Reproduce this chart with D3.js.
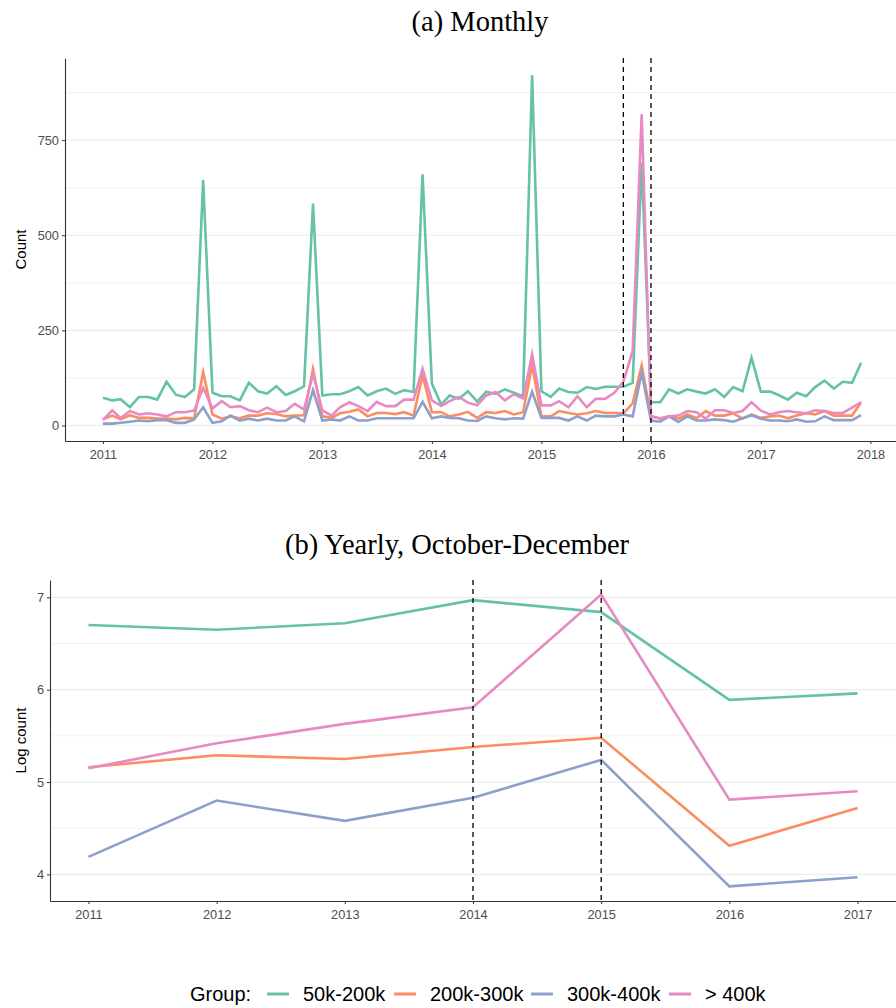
<!DOCTYPE html>
<html>
<head>
<meta charset="utf-8">
<script src="https://cdn.jsdelivr.net/npm/d3@7"></script>
<style>
  html, body { margin: 0; padding: 0; background: #fff; }
  svg { display: block; }
</style>
</head>
<body>
<svg id="chart" width="896" height="1008"></svg>
<script>
// ---------------- DATA ----------------
const groups = ["50k-200k", "200k-300k", "300k-400k", "> 400k"];
const groupColors = ["#66c2a5", "#fc8d62", "#8da0cb", "#e78ac3"];

// monthly counts Jan 2011 .. Dec 2017 (84 months)
const monthlyStart = [2011, 0];
const monthly50k200k = [
  73, 66, 69, 48, 75, 75, 68, 115, 81, 75, 95, 645,
  86, 77, 77, 66, 112, 90, 84, 103, 80, 90, 103, 583,
  79, 82, 82, 90, 101, 79, 90, 97, 83, 93, 88, 660,
  110, 55, 79, 70, 90, 63, 89, 83, 95, 86, 77, 920,
  90, 75, 97, 88, 86, 101, 96, 102, 102, 102, 112, 690,
  61, 61, 95, 84, 95, 89, 84, 95, 75, 101, 90, 178,
  89, 89, 80, 68, 86, 77, 101, 118, 97, 115, 112, 165
];
const monthly200k300k = [
  16, 26, 16, 27, 20, 20, 18, 18, 16, 20, 19, 140,
  29, 18, 24, 19, 26, 26, 32, 30, 24, 26, 27, 149,
  24, 20, 32, 36, 42, 24, 33, 33, 30, 35, 26, 132,
  35, 35, 24, 29, 36, 20, 35, 33, 38, 29, 35, 158,
  24, 24, 38, 33, 29, 32, 38, 33, 33, 32, 58, 158,
  24, 18, 24, 18, 29, 19, 38, 26, 26, 32, 18, 29,
  20, 24, 26, 19, 26, 32, 29, 38, 26, 26, 26, 61
];
const monthly300k400k = [
  5, 5, 7, 10, 13, 11, 14, 14, 7, 7, 16, 48,
  7, 11, 26, 13, 18, 13, 18, 13, 13, 24, 11, 93,
  13, 16, 13, 24, 13, 13, 19, 19, 19, 19, 19, 62,
  19, 24, 20, 19, 13, 12, 24, 19, 16, 19, 18, 89,
  20, 20, 20, 13, 24, 13, 26, 24, 24, 29, 24, 139,
  13, 10, 24, 9, 24, 13, 13, 16, 14, 10, 19, 27,
  18, 13, 13, 11, 16, 10, 11, 24, 14, 14, 14, 27
];
const monthlyOver400k = [
  14, 40, 19, 38, 29, 32, 29, 24, 35, 35, 39, 99,
  45, 64, 48, 51, 40, 35, 47, 35, 38, 57, 42, 136,
  40, 26, 48, 61, 51, 38, 62, 51, 51, 68, 68, 149,
  66, 51, 64, 75, 60, 53, 79, 88, 66, 82, 71, 187,
  53, 53, 64, 48, 77, 48, 70, 70, 86, 115, 196, 818,
  24, 19, 24, 26, 38, 35, 18, 40, 40, 33, 38, 61,
  39, 29, 35, 38, 35, 32, 40, 38, 33, 33, 47, 61
];

// yearly log counts, October-December
const years = [2011, 2012, 2013, 2014, 2015, 2016, 2017];
const yearly50k200k  = [6.70, 6.65, 6.72, 6.97, 6.84, 5.89, 5.96];
const yearly200k300k = [5.16, 5.29, 5.25, 5.38, 5.48, 4.31, 4.72];
const yearly300k400k = [4.19, 4.80, 4.58, 4.83, 5.24, 3.87, 3.97];
const yearlyOver400k = [5.15, 5.42, 5.63, 5.81, 7.03, 4.81, 4.90];

// tick labels / reference lines
const countTicks = [0, 250, 500, 750];
const countMinor = [125, 375, 625, 875];
const monthYearTicks = [2011, 2012, 2013, 2014, 2015, 2016, 2017, 2018];
const monthlyRefDates = [[2015, 9], [2016, 0]];
const logTicks = [4, 5, 6, 7];
const logMinor = [4.5, 5.5, 6.5];
const yearlyRefYears = [2014, 2015];

const titleA = "(a) Monthly";
const titleB = "(b) Yearly, October-December";
const legendTitle = "Group:";

// ---------------- DRAW ----------------
const svg = d3.select("#chart");
const SANS = "'Liberation Sans', Arial, Helvetica, sans-serif";
const SERIF = "'Liberation Serif', 'Times New Roman', serif";
const axisCol = "#333333";
const tickTextCol = "#4d4d4d";
const gridCol = "#ebebeb";

function expand(ext, f) { const s = ext[1] - ext[0]; return [ext[0] - s * f, ext[1] + s * f]; }

// ---- Panel A ----
const months = d3.range(monthly50k200k.length).map(i => new Date(monthlyStart[0], monthlyStart[1] + i, 1));
const monthlySeries = [monthly50k200k, monthly200k300k, monthly300k400k, monthlyOver400k];

const A = { left: 65, right: 899, top: 58, bottom: 441 };
const xDomA = expand([months[0].getTime(), months[months.length - 1].getTime()], 0.05);
const xA = d3.scaleTime().domain(xDomA.map(t => new Date(t))).range([A.left, A.right]);
const allMonthly = monthlySeries.flat();
const yA = d3.scaleLinear().domain(expand(d3.extent(allMonthly), 0.05)).range([A.bottom, A.top]);

const gA = svg.append("g");
gA.selectAll(".minor").data(countMinor).join("line")
  .attr("x1", A.left).attr("x2", A.right)
  .attr("y1", d => yA(d)).attr("y2", d => yA(d))
  .attr("stroke", gridCol).attr("stroke-width", 0.7);
gA.selectAll(".major").data(countTicks).join("line")
  .attr("x1", A.left).attr("x2", A.right)
  .attr("y1", d => yA(d)).attr("y2", d => yA(d))
  .attr("stroke", gridCol).attr("stroke-width", 1.2);

const lineA = d3.line().x((d, i) => xA(months[i])).y(d => yA(d));
gA.selectAll(".series").data(monthlySeries).join("path")
  .attr("d", d => lineA(d))
  .attr("fill", "none")
  .attr("stroke", (d, i) => groupColors[i])
  .attr("stroke-width", 2.6)
  .attr("stroke-linejoin", "miter")
  .attr("stroke-miterlimit", 20);

gA.selectAll(".ref").data(monthlyRefDates).join("line")
  .attr("x1", d => xA(new Date(d[0], d[1], 1))).attr("x2", d => xA(new Date(d[0], d[1], 1)))
  .attr("y1", A.top).attr("y2", A.bottom)
  .attr("stroke", "#000").attr("stroke-width", 1.3).attr("stroke-dasharray", "5,4");

const xAxisA = d3.axisBottom(xA).tickValues(monthYearTicks.map(y => new Date(y, 0, 1)))
  .tickFormat(d3.timeFormat("%Y")).tickSize(3).tickSizeOuter(0);
const gxA = gA.append("g").attr("transform", `translate(0,${A.bottom})`).call(xAxisA);
const yAxisA = d3.axisLeft(yA).tickValues(countTicks).tickSize(3).tickSizeOuter(0);
const gyA = gA.append("g").attr("transform", `translate(${A.left},0)`).call(yAxisA);

// ---- Panel B ----
const yearlySeries = [yearly50k200k, yearly200k300k, yearly300k400k, yearlyOver400k];
const B = { left: 50, right: 896, top: 580, bottom: 901 };
const xB = d3.scaleLinear().domain(expand(d3.extent(years), 0.05)).range([B.left, B.right]);
const yB = d3.scaleLinear().domain(expand(d3.extent(yearlySeries.flat()), 0.05)).range([B.bottom, B.top]);

const gB = svg.append("g");
gB.selectAll(".minor").data(logMinor).join("line")
  .attr("x1", B.left).attr("x2", B.right)
  .attr("y1", d => yB(d)).attr("y2", d => yB(d))
  .attr("stroke", gridCol).attr("stroke-width", 0.7);
gB.selectAll(".major").data(logTicks).join("line")
  .attr("x1", B.left).attr("x2", B.right)
  .attr("y1", d => yB(d)).attr("y2", d => yB(d))
  .attr("stroke", gridCol).attr("stroke-width", 1.2);

const lineB = d3.line().x((d, i) => xB(years[i])).y(d => yB(d));
gB.selectAll(".series").data(yearlySeries).join("path")
  .attr("d", d => lineB(d))
  .attr("fill", "none")
  .attr("stroke", (d, i) => groupColors[i])
  .attr("stroke-width", 2.6)
  .attr("stroke-linejoin", "miter")
  .attr("stroke-miterlimit", 20);

gB.selectAll(".ref").data(yearlyRefYears).join("line")
  .attr("x1", d => xB(d)).attr("x2", d => xB(d))
  .attr("y1", B.top).attr("y2", B.bottom)
  .attr("stroke", "#000").attr("stroke-width", 1.3).attr("stroke-dasharray", "5,4");

const xAxisB = d3.axisBottom(xB).tickValues(years).tickFormat(d3.format("d")).tickSize(3).tickSizeOuter(0);
const gxB = gB.append("g").attr("transform", `translate(0,${B.bottom})`).call(xAxisB);
const yAxisB = d3.axisLeft(yB).tickValues(logTicks).tickFormat(d3.format("d")).tickSize(3).tickSizeOuter(0);
const gyB = gB.append("g").attr("transform", `translate(${B.left},0)`).call(yAxisB);

[gxA, gyA, gxB, gyB].forEach(g => {
  g.select(".domain").attr("stroke", axisCol).attr("stroke-width", 1.1);
  g.selectAll(".tick line").attr("stroke", axisCol).attr("stroke-width", 1);
  g.selectAll(".tick text").attr("fill", tickTextCol).style("font-family", SANS).style("font-size", "12.8px");
});
[gxA, gxB].forEach(g => g.selectAll(".tick text").attr("dy", "0.9em"));
[gyA, gyB].forEach(g => g.selectAll(".tick text").attr("x", -6));

// titles
svg.append("text").attr("x", 480).attr("y", 31)
  .attr("text-anchor", "middle").style("font-family", SERIF).style("font-size", "28.5px")
  .attr("fill", "#000").text(titleA);
svg.append("text").attr("x", 457).attr("y", 554)
  .attr("text-anchor", "middle").style("font-family", SERIF).style("font-size", "28.5px")
  .attr("fill", "#000").text(titleB);

// y labels
svg.append("text").attr("transform", `translate(26,${(A.top + A.bottom) / 2}) rotate(-90)`)
  .attr("text-anchor", "middle").style("font-family", SANS).style("font-size", "15px")
  .attr("fill", "#000").text("Count");
svg.append("text").attr("transform", `translate(26,${(B.top + B.bottom) / 2}) rotate(-90)`)
  .attr("text-anchor", "middle").style("font-family", SANS).style("font-size", "15px")
  .attr("fill", "#000").text("Log count");

// legend
const leg = svg.append("g").attr("transform", "translate(0,994)");
leg.append("text").attr("x", 190).attr("y", 0).attr("dy", "0.35em")
  .style("font-family", SANS).style("font-size", "20px").attr("fill", "#000").text(legendTitle);
const keyX = [267, 394, 531, 669];
const labX = [303, 430, 567, 705];
groups.forEach((gname, i) => {
  leg.append("line").attr("x1", keyX[i]).attr("x2", keyX[i] + 22).attr("y1", 0).attr("y2", 0)
    .attr("stroke", groupColors[i]).attr("stroke-width", 3);
  leg.append("text").attr("x", labX[i]).attr("y", 0).attr("dy", "0.35em")
    .style("font-family", SANS).style("font-size", "20px").attr("fill", "#000").text(gname);
});
</script>
</body>
</html>
